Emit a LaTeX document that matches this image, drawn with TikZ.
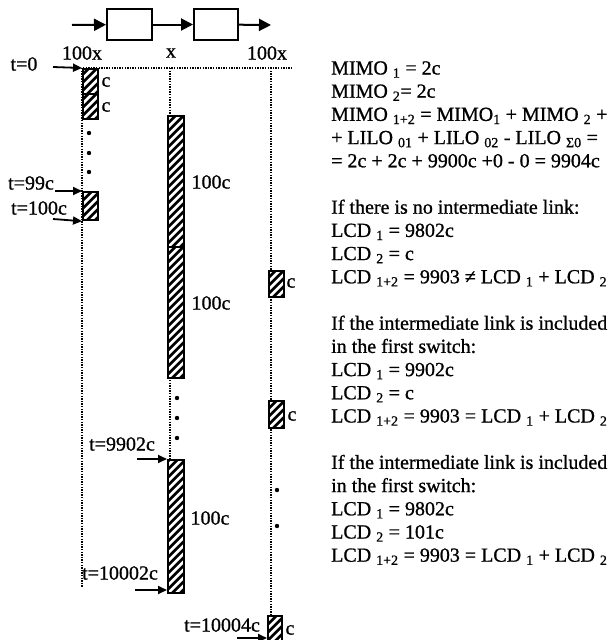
\documentclass[tikz,border=0pt]{standalone}
\usepackage{fontspec}
\setmainfont{Liberation Serif}[FakeBold=0.9]
\usetikzlibrary{arrows.meta}
\tikzset{
  hbox/.style={draw, line width=2.2pt, fill=black, inner sep=0pt, anchor=north west,
    path picture={\foreach \k in {-336,-328,...,24}{\draw[white, line width=2.6pt]
      ([xshift=\k pt]path picture bounding box.south west) -- ++(360pt,360pt);}}},
  swbox/.style={draw, line width=2pt, inner sep=0pt},
  bigarr/.style={line width=2pt, -{Triangle[length=12pt,width=12pt]}},
  arr/.style={line width=1.8pt, -{Triangle[length=9pt,width=8pt]}},
  axis/.style={line width=1.3pt, dash pattern=on 1.3pt off 1.3pt},
  lbl/.style={inner sep=0pt},
  txt/.style={inner sep=0pt, anchor=base west},
  dot/.style={circle, fill=black, inner sep=0pt, minimum size=4.4pt},
}
\begin{document}
\begin{tikzpicture}[x=1pt, y=-1pt, font=\fontsize{20pt}{23.2pt}\selectfont]
\useasboundingbox (0,0) rectangle (609,640);
% top flow
\coordinate (in) at (72,25);
\node[swbox, minimum width=45pt, minimum height=31pt] (sw1) at (129.5,24.5) {};
\node[swbox, minimum width=44pt, minimum height=31pt] (sw2) at (216,24.5) {};
\coordinate (out) at (271,25);
\draw[bigarr] (in) -- (sw1);
\draw[bigarr] (sw1) -- (sw2);
\draw[bigarr] (sw2) -- (out);
% column labels
\node[lbl] (l1) at (82,53) {100x};
\node[lbl] (l2) at (171,53) {x};
\node[lbl] (l3) at (267,53) {100x};
% axes
\coordinate (h0) at (83,68);
\coordinate (h1) at (293,68);
\draw[axis] (h0) -- (h1);
\coordinate (a1t) at (82,68);
\coordinate (a1b) at (82,587);
\coordinate (a2t) at (170,68);
\coordinate (a2b) at (170,592);
\coordinate (a3t) at (271,68);
\coordinate (a3b) at (271,615);
\draw[axis] (a1t) -- (a1b);
\draw[axis] (a2t) -- (a2b);
\draw[axis] (a3t) -- (a3b);
% column 1
\node[hbox, minimum width=15pt, minimum height=25pt] (c1a) at (82,68) {};
\node[hbox, minimum width=15pt, minimum height=25pt] (c1b) at (82,93) {};
\node[lbl] (lc1a) at (106,82) {c};
\node[lbl] (lc1b) at (106,107) {c};
\node[dot] (d1) at (89,133) {};
\node[dot] (d2) at (89,153) {};
\node[dot] (d3) at (89,172) {};
\node[hbox, minimum width=15pt, minimum height=28pt] (c99) at (82,191) {};
\node[lbl] (t0) at (24,64) {t=0};
\coordinate (t0s) at (53,67);
\draw[arr] (t0s) -- (c1a.north west);
\node[lbl] (t99) at (31,183) {t=99c};
\coordinate (t99s) at (55,191);
\draw[arr] (t99s) -- (c99.north west);
\node[lbl] (t100) at (39,208) {t=100c};
\coordinate (t100s) at (53,219);
\draw[arr] (t100s) -- (c99.south west);
% column 2
\node[hbox, minimum width=16pt, minimum height=131pt] (b1a) at (167,115) {};
\node[hbox, minimum width=16pt, minimum height=131pt] (b1b) at (167,246) {};
\node[lbl] (lb1a) at (211,182) {100c};
\node[lbl] (lb1b) at (211,303) {100c};
\node[dot] (d4) at (177,398) {};
\node[dot] (d5) at (177,418) {};
\node[dot] (d6) at (177,438) {};
\node[hbox, minimum width=16pt, minimum height=133pt] (b2) at (167,459) {};
\node[lbl] (lb2) at (210,518) {100c};
\node[lbl] (t9902) at (122,444) {t=9902c};
\coordinate (t9902s) at (137,459);
\draw[arr] (t9902s) -- (b2.north west);
\node[lbl] (t10002) at (120,573) {t=10002c};
\coordinate (t10002s) at (135,590);
\coordinate (t10002e) at (167,590);
\draw[arr] (t10002s) -- (t10002e);
% column 3
\node[hbox, minimum width=15pt, minimum height=26pt] (c3a) at (268,270) {};
\node[lbl] (lc3a) at (291,283) {c};
\node[hbox, minimum width=15pt, minimum height=27pt] (c3b) at (268,400) {};
\node[lbl] (lc3b) at (292,416) {c};
\node[dot] (d7) at (277,490) {};
\node[dot] (d8) at (277,526) {};
\node[hbox, minimum width=14pt, minimum height=28pt] (c3c) at (267,615) {};
\node[lbl] (lc3c) at (290,630) {c};
\node[lbl] (t10004) at (222,625) {t=10004c};
\coordinate (t10004s) at (237,638);
\coordinate (t10004e) at (267,638);
\draw[arr] (t10004s) -- (t10004e);
% right text
\def\bx{331}
\node[txt] (r0) at (\bx,74.5) {MIMO \textsubscript{1} = 2c};
\node[txt] (r1) at (\bx,97.7) {MIMO \textsubscript{2}= 2c};
\node[txt] (r2) at (\bx,120.9) {MIMO \textsubscript{1+2} = MIMO\textsubscript{1} + MIMO \textsubscript{2} +};
\node[txt] (r3) at (\bx,144.1) {+ LILO \textsubscript{01} + LILO \textsubscript{02} - LILO \textsubscript{Σ0} =};
\node[txt] (r4) at (\bx,167.3) {= 2c + 2c + 9900c +0 - 0 = 9904c};
\node[txt] (r6) at (\bx,213.7) {If there is no intermediate link:};
\node[txt] (r7) at (\bx,236.9) {LCD \textsubscript{1} = 9802c};
\node[txt] (r8) at (\bx,260.1) {LCD \textsubscript{2} = c};
\node[txt] (r9) at (\bx,283.3) {LCD \textsubscript{1+2} = 9903 ≠ LCD \textsubscript{1} + LCD \textsubscript{2}};
\node[txt] (r11) at (\bx,329.7) {If the intermediate link is included};
\node[txt] (r12) at (\bx,352.9) {in the first switch:};
\node[txt] (r13) at (\bx,376.1) {LCD \textsubscript{1} = 9902c};
\node[txt] (r14) at (\bx,399.3) {LCD \textsubscript{2} = c};
\node[txt] (r15) at (\bx,422.5) {LCD \textsubscript{1+2} = 9903 = LCD \textsubscript{1} + LCD \textsubscript{2}};
\node[txt] (r17) at (\bx,468.9) {If the intermediate link is included};
\node[txt] (r18) at (\bx,492.1) {in the first switch:};
\node[txt] (r19) at (\bx,515.3) {LCD \textsubscript{1} = 9802c};
\node[txt] (r20) at (\bx,538.5) {LCD \textsubscript{2} = 101c};
\node[txt] (r21) at (\bx,561.7) {LCD \textsubscript{1+2} = 9903 = LCD \textsubscript{1} + LCD \textsubscript{2}};
\end{tikzpicture}
\end{document}
